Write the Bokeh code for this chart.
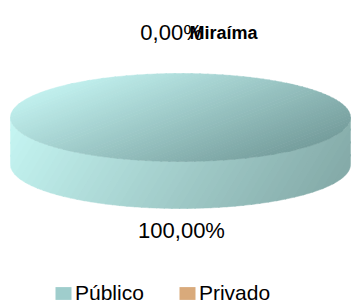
import numpy as np
from bokeh.plotting import figure
from bokeh.models import Range1d, Legend, LegendItem, ColumnDataSource
from bokeh.embed import file_html
from bokeh.resources import INLINE
from bokeh.core.properties import value

# ---- data ----
title_text = "Miraíma"
categories = ["Público", "Privado"]
values = [100.0, 0.0]
label_texts = ["100,00%", "0,00%"]

# ---- style ----
top_light = ["#c1f0ee", "#f6cf9f"]
top_dark = ["#759d9c", "#a87a4c"]
side_light = ["#c6f6f3", "#f8d4a6"]
side_dark = ["#84aaa8", "#b08254"]
legend_colors = ["#9fcdcc", "#d9aa7b"]
FONT = "Liberation Sans"

W, H = 352, 303
p = figure(width=W, height=H, output_backend="svg", toolbar_location=None,
           x_range=Range1d(0, W), y_range=Range1d(H, 0), min_border=0,
           x_axis_location=None, y_axis_location=None)
p.grid.visible = False
p.outline_line_color = None
p.background_fill_color = "white"
p.border_fill_color = "white"

cx, cy, rx, ry, depth = 180.0, 117.0, 170.0, 44.0, 47.0


def hexrgb(h):
    return tuple(int(h[i:i + 2], 16) for i in (1, 3, 5))


def mix(c0, c1, t):
    a, b = hexrgb(c0), hexrgb(c1)
    return "#%02x%02x%02x" % tuple(int(round(u + (v - u) * t)) for u, v in zip(a, b))


def clip_half(poly, d, t0, keep_ge):
    out = []
    n = len(poly)
    for i in range(n):
        P = poly[i]
        Q = poly[(i + 1) % n]
        fp = P[0] * d[0] + P[1] * d[1] - t0
        fq = Q[0] * d[0] + Q[1] * d[1] - t0
        if not keep_ge:
            fp, fq = -fp, -fq
        if fp >= 0:
            out.append(P)
        if (fp >= 0) != (fq >= 0):
            s = fp / (fp - fq)
            out.append((P[0] + s * (Q[0] - P[0]), P[1] + s * (Q[1] - P[1])))
    return out


def bands(xs, ys, d, c0, c1, n=48):
    poly = list(zip(xs, ys))
    t = [x * d[0] + y * d[1] for x, y in poly]
    tmin, tmax = min(t), max(t)
    BX, BY, BC = [], [], []
    for k in range(n):
        a = tmin + (tmax - tmin) * k / n - 0.4
        b = tmin + (tmax - tmin) * (k + 1) / n + 0.4
        q = clip_half(poly, d, a, True)
        if q:
            q = clip_half(q, d, b, False)
        if len(q) >= 3:
            BX.append([pt[0] for pt in q])
            BY.append([pt[1] for pt in q])
            BC.append(mix(c0, c1, (k + 0.5) / n))
    return BX, BY, BC


def arc(t0, t1, dy=0.0, n=180):
    th = np.radians(np.linspace(t0, t1, n))
    return list(cx + rx * np.cos(th)), list(cy + ry * np.sin(th) + dy)


total = float(sum(values))
fracs = [v / total for v in values]
cum = np.concatenate([[0.0], np.cumsum(fracs)[:-1]])

side_src = dict(xs=[], ys=[], c=[])
top_src = dict(xs=[], ys=[], c=[])
for i, f in enumerate(fracs):
    if f <= 0:
        continue
    th0 = -90.0 + 360.0 * cum[i]
    th1 = th0 + 360.0 * f
    # visible outer wall (front half of the ellipse)
    for k in (-1, 0, 1):
        lo = max(th0, 360.0 * k)
        hi = min(th1, 360.0 * k + 180.0)
        if hi > lo:
            ux, uy = arc(lo, hi)
            lx, ly = arc(hi, lo, depth)
            bx, by, bc = bands(ux + lx, uy + ly, (1.0, 0.6), side_light[i], side_dark[i])
            side_src["xs"] += bx; side_src["ys"] += by; side_src["c"] += bc
    # top face
    tx, ty = arc(th0, th1, 0.0, 360)
    if f < 1.0:
        tx = [cx] + tx
        ty = [cy] + ty
    bx, by, bc = bands(tx, ty, (1.0, 2.6), top_light[i], top_dark[i])
    top_src["xs"] += bx; top_src["ys"] += by; top_src["c"] += bc

p.patches("xs", "ys", source=ColumnDataSource(side_src), fill_color="c",
          line_color="c", line_width=0.5)
p.patches("xs", "ys", source=ColumnDataSource(top_src), fill_color="c",
          line_color="c", line_width=0.5)

# ---- data labels, placed from each slice's mid angle ----
lx, ly = [], []
for i, f in enumerate(fracs):
    mid = np.radians(-90.0 + 360.0 * (cum[i] + f / 2.0))
    s = np.sin(mid)
    if s > 0:
        lx.append(cx + 1 + (rx + 20) * np.cos(mid))
        ly.append(cy + (ry + 22) * s + depth)
    else:
        lx.append(cx - 9 + (rx + 20) * np.cos(mid))
        ly.append(cy + (ry + 41) * s)
p.text(x=lx, y=ly, text=label_texts, text_font=value(FONT),
       text_font_size="22px", text_align="center", text_baseline="middle",
       text_color="#000000")

# ---- title ----
p.text(x=[257], y=[32], text=[title_text], text_font=value(FONT),
       text_font_size="18px", text_font_style="bold", text_align="right",
       text_baseline="alphabetic", text_color="#000000")

# ---- legend (zero-area swatch renderers at the pie centre) ----
items = []
for i, cat in enumerate(categories):
    r = p.quad(left=[cx], right=[cx], top=[cy], bottom=[cy],
               fill_color=legend_colors[i], line_color=None)
    items.append(LegendItem(label=cat, renderers=[r]))
legend = Legend(items=items, orientation="horizontal", location=(53, -2),
                label_text_font=FONT, label_text_font_size="21px",
                label_text_color="#000000",
                glyph_width=20, glyph_height=16, label_standoff=2, spacing=33,
                padding=0, margin=0, border_line_color=None,
                background_fill_alpha=0)
p.add_layout(legend)

open("out.html", "w").write(file_html(p, INLINE))
